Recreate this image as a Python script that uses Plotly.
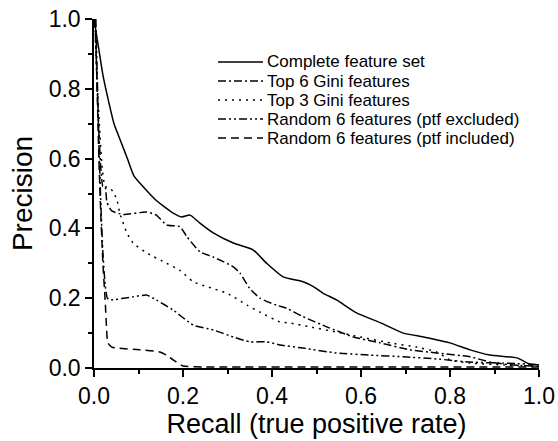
import plotly.graph_objects as go

# Complete feature set (solid)
complete_x = [0.0, 0.01, 0.02, 0.03, 0.045, 0.06, 0.075, 0.09, 0.11, 0.14, 0.178, 0.197, 0.216, 0.238, 0.268,
              0.313, 0.358, 0.388, 0.425, 0.47, 0.493, 0.515, 0.545, 0.59, 0.643, 0.695, 0.74, 0.80, 0.845,
              0.89, 0.95, 0.98, 1.0]
complete_y = [1.0, 0.92, 0.84, 0.78, 0.70, 0.65, 0.60, 0.55, 0.52, 0.48, 0.444, 0.433, 0.438, 0.415, 0.387,
              0.358, 0.338, 0.30, 0.261, 0.247, 0.233, 0.214, 0.195, 0.158, 0.13, 0.10, 0.089, 0.072, 0.052,
              0.037, 0.029, 0.011, 0.009]

# Top 6 Gini features (dash-dot)
top6_x = [0.002, 0.006, 0.01, 0.015, 0.02, 0.025, 0.029, 0.04, 0.066, 0.118, 0.14, 0.163, 0.193, 0.209, 0.238,
          0.268, 0.313, 0.328, 0.35, 0.373, 0.41, 0.433, 0.47, 0.523, 0.583, 0.643, 0.71, 0.77, 0.845, 0.89,
          0.935, 1.0]
top6_y = [1.0, 0.85, 0.70, 0.58, 0.52, 0.52, 0.475, 0.45, 0.44, 0.447, 0.438, 0.41, 0.405, 0.376, 0.333,
          0.318, 0.29, 0.272, 0.228, 0.20, 0.18, 0.171, 0.147, 0.118, 0.089, 0.072, 0.052, 0.043, 0.032, 0.017,
          0.009, 0.005]

# Top 3 Gini features (dotted)
top3_x = [0.002, 0.006, 0.012, 0.018, 0.025, 0.036, 0.045, 0.052, 0.058, 0.074, 0.088, 0.118, 0.163, 0.193,
          0.223, 0.254, 0.299, 0.344, 0.373, 0.418, 0.44, 0.485, 0.545, 0.598, 0.665, 0.725, 0.77, 0.80,
          0.845, 0.92, 1.0]
top3_y = [1.0, 0.85, 0.70, 0.58, 0.52, 0.516, 0.50, 0.48, 0.444, 0.387, 0.358, 0.33, 0.30, 0.28,
          0.247, 0.233, 0.214, 0.18, 0.16, 0.132, 0.129, 0.118, 0.103, 0.089, 0.072, 0.06, 0.046, 0.023,
          0.014, 0.009, 0.005]

# Random 6 features (ptf excluded) (dash-dot-dot)
rand_ex_x = [0.004, 0.008, 0.012, 0.016, 0.02, 0.025, 0.03, 0.036, 0.088, 0.118, 0.14, 0.178, 0.223, 0.268,
             0.313, 0.35, 0.388, 0.418, 0.47, 0.545, 0.62, 0.695, 0.77, 0.845, 0.92, 1.0]
rand_ex_y = [1.0, 0.80, 0.60, 0.45, 0.33, 0.24, 0.20, 0.195, 0.204, 0.209, 0.195, 0.166, 0.123, 0.109,
             0.089, 0.075, 0.075, 0.066, 0.057, 0.043, 0.037, 0.032, 0.026, 0.017, 0.014, 0.01]

# Random 6 features (ptf included) (dashed)
rand_in_x = [0.003, 0.007, 0.011, 0.015, 0.02, 0.025, 0.028, 0.031, 0.04, 0.052, 0.103, 0.148, 0.163, 0.178,
             0.2, 0.25, 0.5, 1.0]
rand_in_y = [1.0, 0.80, 0.60, 0.45, 0.30, 0.195, 0.12, 0.072, 0.06, 0.057, 0.052, 0.046, 0.037, 0.023,
             0.006, 0.003, 0.003, 0.003]

series_names = ["Complete feature set", "Top 6 Gini features", "Top 3 Gini features",
                "Random 6 features (ptf excluded)", "Random 6 features (ptf included)"]
series_x = [complete_x, top6_x, top3_x, rand_ex_x, rand_in_x]
series_y = [complete_y, top6_y, top3_y, rand_ex_y, rand_in_y]
series_dash = ["solid", "8px,3px,2px,3px", "2px,5px", "8px,3px,2px,3px,2px,3px", "8px,5px"]

FONT = "Liberation Sans, Arial"

fig = go.Figure()
for name, xs, ys, dash in zip(series_names, series_x, series_y, series_dash):
    fig.add_trace(go.Scatter(x=xs, y=ys, mode="lines", name=name, showlegend=False,
                             line=dict(color="black", width=1.5, dash=dash, shape="spline", smoothing=0.5)))

# Hand-placed legend (paper coordinates) to match the original layout
leg_x0, leg_x1, leg_tx = 0.2787, 0.3798, 0.384
leg_y_top, leg_step = 0.8768, 0.0545
for i, (name, dash) in enumerate(zip(series_names, series_dash)):
    yy = leg_y_top - i * leg_step
    fig.add_shape(type="line", xref="paper", yref="paper", x0=leg_x0, x1=leg_x1, y0=yy, y1=yy,
                  line=dict(color="black", width=1.5, dash=dash))
    fig.add_annotation(xref="paper", yref="paper", x=leg_tx, y=yy, text=name, showarrow=False,
                       xanchor="left", yanchor="middle",
                       font=dict(family=FONT, size=17, color="black"))

axis_common = dict(
    range=[0, 1], showline=True, linecolor="black", linewidth=1.5, mirror=False,
    ticks="outside", ticklen=7, tickwidth=1.5, tickcolor="black",
    dtick=0.2, tick0=0, tickformat=".1f", showgrid=False, zeroline=False, automargin=False,
    ticklabeloverflow="allow",
    tickfont=dict(family=FONT, size=23, color="black"),
    minor=dict(ticks="outside", ticklen=4, tickwidth=1.5, tickcolor="black", dtick=0.1, showgrid=False),
)

fig.update_layout(
    width=558, height=441,
    margin=dict(l=94, r=19, t=19, b=73),
    paper_bgcolor="white", plot_bgcolor="white",
    font=dict(family=FONT, color="black"),
    xaxis=dict(axis_common, title=dict(text="Recall (true positive rate)",
                                       font=dict(size=27), standoff=0)),
    yaxis=dict(axis_common, title=dict(text="Precision", font=dict(size=28), standoff=8)),
    showlegend=False,
)

# Remove the browser's default page margin so the figure fills the window exactly
fig.write_html("out.html", config={"displayModeBar": False},
               post_script="document.body.style.margin='0';")
